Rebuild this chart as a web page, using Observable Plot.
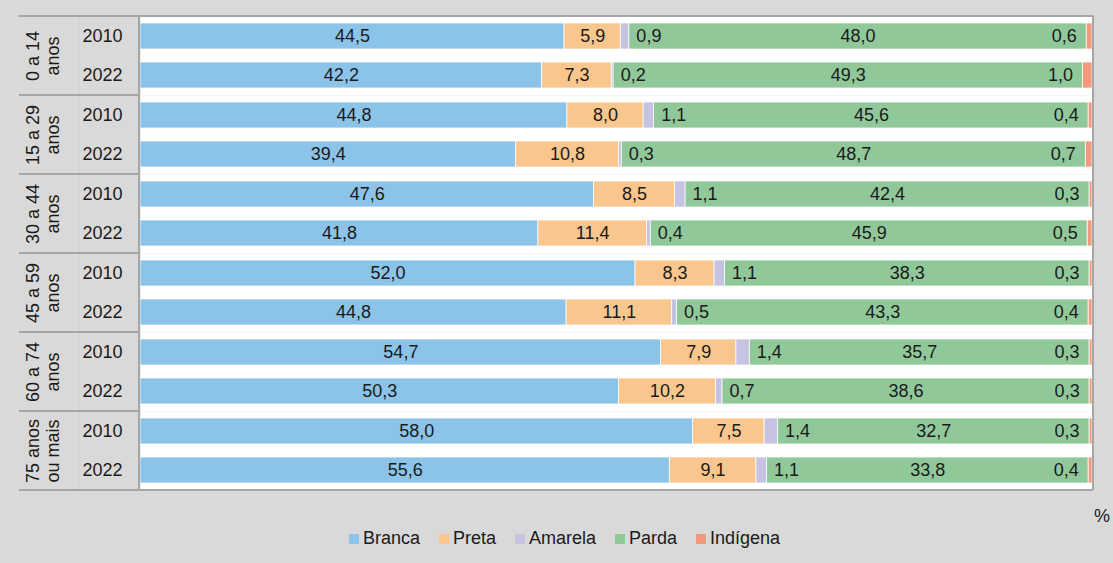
<!DOCTYPE html>
<html><head><meta charset="utf-8">
<script src="https://cdn.jsdelivr.net/npm/d3@7"></script>
<script src="https://cdn.jsdelivr.net/npm/@observablehq/plot@0.6"></script>
<style>
body{margin:0;background:#d9d9d9;font-family:"Liberation Sans",Arial,sans-serif;color:#1a1a1a;}
#wrap{position:relative;width:1113px;height:563px;background:#d9d9d9;overflow:hidden;}
#wrap svg{display:block;}
#foot{position:relative;height:63px;}
#pct{position:absolute;right:3px;top:7px;font-size:18px;line-height:18px;}
#legend{position:absolute;top:28px;left:0;width:1113px;display:flex;justify-content:center;padding-left:16px;box-sizing:border-box;gap:19px;font-size:18px;line-height:21px;}
.item{display:flex;align-items:center;gap:4px;}
.sw{width:10px;height:10px;display:inline-block;}
</style></head>
<body>
<div id="wrap"><div id="chart"></div><div id="foot"><div id="pct">%</div><div id="legend"></div></div></div>
<script>
const groups = ["0 a 14 anos","15 a 29 anos","30 a 44 anos","45 a 59 anos","60 a 74 anos","75 anos ou mais"];
const groupLabels = ["0 a 14\nanos","15 a 29\nanos","30 a 44\nanos","45 a 59\nanos","60 a 74\nanos","75 anos\nou mais"];
const years = ["2010","2022"];
const races = ["Branca","Preta","Amarela","Parda","Indígena"];
const colors = ["#8cc3e9","#f9c68d","#c6c2e1","#90c89a","#f3997b"];
// rows in order: group1 2010, group1 2022, group2 2010, ...
const branca   = [44.5,42.2,44.8,39.4,47.6,41.8,52.0,44.8,54.7,50.3,58.0,55.6];
const preta    = [5.9,7.3,8.0,10.8,8.5,11.4,8.3,11.1,7.9,10.2,7.5,9.1];
const amarela  = [0.9,0.2,1.1,0.3,1.1,0.4,1.1,0.5,1.4,0.7,1.4,1.1];
const parda    = [48.0,49.3,45.6,48.7,42.4,45.9,38.3,43.3,35.7,38.6,32.7,33.8];
const indigena = [0.6,1.0,0.4,0.7,0.3,0.5,0.3,0.4,0.3,0.3,0.3,0.4];

const series = [branca, preta, amarela, parda, indigena];
const table = [];
for (let i = 0; i < branca.length; i++) {
  races.forEach((r, k) => table.push({group: groups[Math.floor(i/2)], year: years[i%2], race: r, value: series[k][i]}));
}
const fmt = v => v.toFixed(1).replace(".", ",");
const common = {x: "value", y: "year", fy: "group", z: "race", order: races, offset: "normalize"};

const chart = Plot.plot({
  width: 1113, height: 500,
  marginTop: 16, marginBottom: 10, marginLeft: 140, marginRight: 21,
  style: {fontSize: "18px", fontFamily: "Liberation Sans, Arial, sans-serif", color: "#1a1a1a", background: "transparent"},
  x: {axis: null, domain: [0, 1]},
  y: {domain: years, paddingInner: 0.34, paddingOuter: 0.17, tickSize: 0, tickPadding: 18, label: null},
  fy: {domain: groups, padding: 0, axis: null},
  color: {domain: races, range: colors},
  marks: [
    Plot.frame({fill: "white"}),
    Plot.barX(table, Plot.stackX({...common, fill: "race", stroke: "white", strokeWidth: 0.75})),
    Plot.text(table, Plot.stackX({...common, text: d => (d.race === "Branca" || d.race === "Preta" || d.race === "Parda") ? fmt(d.value) : null, fill: "#1a1a1a"})),
    Plot.text(table, Plot.stackX2({...common, text: d => d.race === "Amarela" ? fmt(d.value) : null, textAnchor: "start", dx: 7, fill: "#1a1a1a"})),
    Plot.text(table, Plot.stackX1({...common, text: d => d.race === "Indígena" ? fmt(d.value) : null, textAnchor: "end", dx: -10, fill: "#1a1a1a"})),
    Plot.text(groups, {fy: d => d, text: (d, i) => groupLabels[i], frameAnchor: "left", textAnchor: "middle", lineAnchor: "middle", dx: -98, rotate: -90, lineHeight: 1.1, fill: "#1a1a1a"})
  ]
});
document.getElementById("chart").appendChild(chart);

// decorative borders and separators derived from the scales
const fyS = chart.scale("fy"), xS = chart.scale("x");
const yTop = fyS.range[0], yBottom = fyS.range[1];
const xl = xS.range[0], xr = xS.range[1];
const svgSel = d3.select(chart);
const deco = svgSel.append("g").attr("fill", "none");
const labelLeft = 19, divider = 79;
deco.append("line").attr("x1", divider).attr("x2", divider).attr("y1", yTop).attr("y2", yBottom).attr("stroke", "#cdcdcd").attr("stroke-width", 1);
groups.slice(0, -1).forEach(gr => {
  const y = fyS.apply(gr) + fyS.bandwidth;
  deco.append("line").attr("x1", labelLeft).attr("x2", xl).attr("y1", y).attr("y2", y).attr("stroke", "#a6a6a6").attr("stroke-width", 2);
});
deco.append("line").attr("x1", labelLeft).attr("x2", xr + 1).attr("y1", yTop).attr("y2", yTop).attr("stroke", "#a6a6a6").attr("stroke-width", 2);
deco.append("line").attr("x1", labelLeft).attr("x2", xr + 1).attr("y1", yBottom).attr("y2", yBottom).attr("stroke", "#a6a6a6").attr("stroke-width", 2);
deco.append("line").attr("x1", xl - 1).attr("x2", xl - 1).attr("y1", yTop).attr("y2", yBottom).attr("stroke", "#a6a6a6").attr("stroke-width", 2);
deco.append("line").attr("x1", xr + 1).attr("x2", xr + 1).attr("y1", yTop).attr("y2", yBottom).attr("stroke", "#a6a6a6").attr("stroke-width", 2);

// legend
const legend = d3.select("#legend");
races.forEach((r, i) => {
  const it = legend.append("div").attr("class", "item");
  it.append("span").attr("class", "sw").style("background", colors[i]);
  it.append("span").text(r);
});
</script>
</body></html>
